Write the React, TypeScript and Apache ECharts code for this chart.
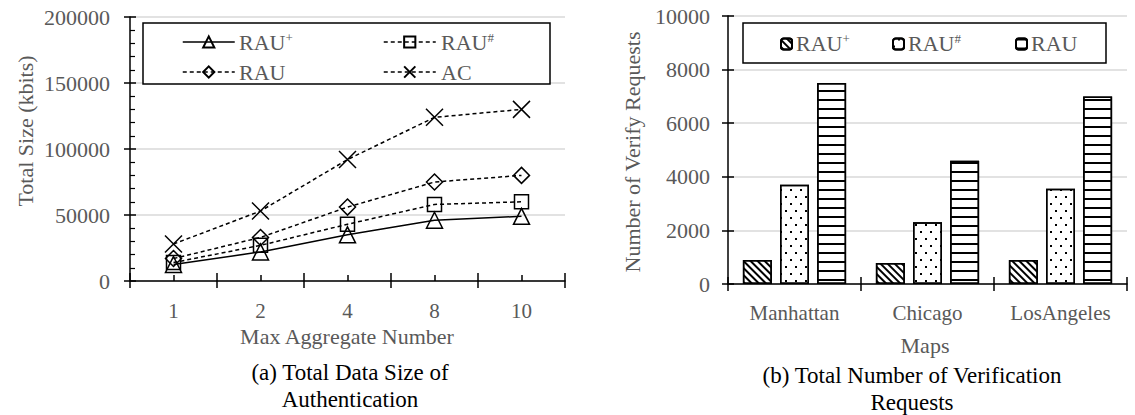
import React, { useEffect, useRef } from "react";
import * as echarts from "echarts";

// ---------- data ----------
const sizeCategories = ["1", "2", "4", "8", "10"];
const rauPlusSize = [12500, 22000, 35000, 46000, 49000];
const rauSharpSize = [14000, 27000, 43000, 58000, 60000];
const rauSize = [17000, 33000, 56000, 75000, 80000];
const acSize = [28000, 53000, 92000, 124000, 130000];

const mapCategories = ["Manhattan", "Chicago", "LosAngeles"];
const rauPlusReq = [900, 780, 900];
const rauSharpReq = [3700, 2300, 3550];
const rauReq = [7500, 4600, 7000];

const seriesNames = ["RAU+", "RAU#", "RAU", "AC"];

// ---------- styles ----------
const FONT = "Liberation Serif";
const GRAY = "#595959";
const AXIS = { color: "#000", width: 1.5 };
const GRID_LINE = { color: "#d9d9d9", width: 1.5 };
const plain = (v: number) => String(v);

const richLabel = (name: string) => {
  if (name === "RAU+") return "{m|RAU}{s|+}";
  if (name === "RAU#") return "{m|RAU}{s|#}";
  return `{m|${name}}`;
};

const legendLabel = (name: string, x: number, y: number) => ({
  type: "text",
  x,
  y,
  z: 13,
  style: {
    text: richLabel(name),
    fill: GRAY,
    font: "22px 'Liberation Serif', serif",
    fontFamily: FONT,
    fontSize: 22,
    align: "left",
    verticalAlign: "middle",
    rich: {
      m: { fill: GRAY, font: "22px 'Liberation Serif', serif", fontFamily: FONT, fontSize: 22 },
      s: {
        fill: GRAY,
        font: "13px 'Liberation Serif', serif",
        fontFamily: FONT,
        fontSize: 13,
        verticalAlign: "top",
      },
    },
  },
});

const txt = (text: string, x: number, y: number, size: number, color: string, rotate = 0) => ({
  type: "text",
  x,
  y,
  rotation: rotate,
  z: 10,
  style: {
    text,
    fill: color,
    fontFamily: FONT,
    fontSize: size,
    align: "center",
    verticalAlign: "middle",
  },
});

function buildLineOption() {
  const mk = (name: string, data: number[], symbol: string, size: number, dashed: boolean) => ({
    type: "line",
    name,
    data,
    xAxisIndex: 0,
    yAxisIndex: 0,
    symbol,
    symbolSize: size,
    showSymbol: true,
    lineStyle: { color: "#000", width: 1.5, type: dashed ? [4, 3] : "solid" },
    itemStyle: { color: "rgba(255,255,255,0)", borderColor: "#000", borderWidth: 1.5 },
    z: 3,
  });
  const legendBase = {
    orient: "horizontal",
    padding: 0,
    itemWidth: 52,
    itemHeight: 14,
    formatter: () => "",
    lineStyle: { width: 1.5 },
    selectedMode: false,
    z: 12,
  };
  const cross = "path://M0,0L20,20M20,0L0,20";
  return {
    animation: false,
    grid: { left: 130, top: 17, width: 435, height: 264 },
    legend: [
      { ...legendBase, data: [seriesNames[0]], left: 182, top: 35 },
      { ...legendBase, data: [seriesNames[1]], left: 383, top: 35 },
      { ...legendBase, data: [seriesNames[2]], left: 182, top: 65 },
      { ...legendBase, data: [seriesNames[3]], left: 383, top: 65 },
    ],
    xAxis: [
      {
        type: "category",
        data: sizeCategories,
        boundaryGap: true,
        axisLine: { show: true, lineStyle: AXIS },
        axisTick: { show: true, inside: false, length: 7, lineStyle: AXIS },
        axisLabel: { color: GRAY, fontFamily: FONT, fontSize: 21, margin: 19, interval: 0 },
        splitLine: { show: false },
      },
      {
        type: "category",
        data: sizeCategories,
        position: "bottom",
        axisLine: { show: false },
        axisTick: { show: true, inside: true, length: 8, lineStyle: AXIS },
        axisLabel: { show: false },
        splitLine: { show: false },
      },
      {
        type: "category",
        data: sizeCategories,
        position: "bottom",
        axisLine: { show: false },
        axisTick: { show: true, inside: true, length: 6, alignWithLabel: true, lineStyle: AXIS },
        axisLabel: { show: false },
        splitLine: { show: false },
      },
    ],
    yAxis: [
      {
        type: "value",
        min: 0,
        max: 200000,
        interval: 50000,
        axisLine: { show: true, lineStyle: AXIS },
        axisTick: { show: true, inside: true, length: 6, lineStyle: AXIS },
        minorTick: { show: true, splitNumber: 5, length: 5, lineStyle: { color: "#000", width: 1.2 } },
        splitLine: { show: true, lineStyle: GRID_LINE },
        axisLabel: { color: GRAY, fontFamily: FONT, fontSize: 22, margin: 20, formatter: plain },
      },
      {
        type: "value",
        min: 0,
        max: 200000,
        interval: 50000,
        position: "left",
        offset: 0,
        axisLine: { show: false },
        axisTick: { show: true, inside: false, length: 6, lineStyle: AXIS },
        axisLabel: { show: false },
        splitLine: { show: false },
      },
    ],
    series: [
      mk(seriesNames[0], rauPlusSize, "triangle", 16, false),
      mk(seriesNames[1], rauSharpSize, "rect", 14, true),
      mk(seriesNames[2], rauSize, "diamond", 16, true),
      mk(seriesNames[3], acSize, cross, 17, true),
    ],
    graphic: [
      {
        type: "rect",
        z: 11,
        shape: { x: 143, y: 23, width: 407, height: 61 },
        style: { fill: "#fff", stroke: "#000", lineWidth: 1.5 },
      },
      legendLabel(seriesNames[0], 239, 42),
      legendLabel(seriesNames[1], 441, 42),
      legendLabel(seriesNames[2], 239, 72),
      legendLabel(seriesNames[3], 441, 72),
      txt("Total Size (kbits)", 25, 131, 22, GRAY, Math.PI / 2),
      txt("Max Aggregate Number", 347, 336, 22, GRAY),
      txt("(a) Total Data Size of", 350, 372, 23, "#000"),
      txt("Authentication", 350, 399, 23, "#000"),
    ],
  };
}

function buildBarOption() {
  const decals = [
    {
      symbol: "rect",
      symbolSize: 1,
      color: "#000",
      backgroundColor: "#fff",
      dashArrayX: [1, 0],
      dashArrayY: [1.5, 2.5],
      rotation: Math.PI / 4,
    },
    {
      symbol: "rect",
      symbolSize: 1,
      color: "#000",
      backgroundColor: "#fff",
      dashArrayX: [
        [1.6, 7.4],
        [0, 4.5, 1.6, 2.9],
      ],
      dashArrayY: [1.6, 4.4],
      rotation: 0,
    },
    {
      symbol: "rect",
      symbolSize: 1,
      color: "#000",
      backgroundColor: "#fff",
      dashArrayX: [1, 0],
      dashArrayY: [1.8, 6.7],
      rotation: 0,
    },
  ];
  const mk = (name: string, data: number[], decal: any) => ({
    type: "bar",
    name,
    data,
    xAxisIndex: 0,
    yAxisIndex: 0,
    barWidth: 29,
    barGap: "28%",
    itemStyle: { color: "#fff", borderColor: "#000", borderWidth: 1.5, decal },
    z: 3,
  });
  const legendBase = {
    orient: "horizontal",
    padding: 0,
    itemWidth: 11,
    itemHeight: 11,
    formatter: () => "",
    selectedMode: false,
    z: 12,
  };
  return {
    animation: false,
    grid: { left: 138, top: 16, width: 399, height: 268 },
    legend: [
      { ...legendBase, data: [seriesNames[0]], left: 190, top: 37.5 },
      { ...legendBase, data: [seriesNames[1]], left: 302, top: 37.5 },
      { ...legendBase, data: [seriesNames[2]], left: 425, top: 37.5 },
    ],
    xAxis: [
      {
        type: "category",
        data: mapCategories,
        boundaryGap: true,
        axisLine: { show: true, lineStyle: AXIS },
        axisTick: { show: true, inside: false, length: 7, lineStyle: AXIS },
        axisLabel: { color: GRAY, fontFamily: FONT, fontSize: 21, margin: 18, interval: 0 },
        splitLine: { show: false },
      },
      {
        type: "category",
        data: mapCategories,
        position: "bottom",
        axisLine: { show: false },
        axisTick: { show: true, inside: true, length: 7, lineStyle: AXIS },
        axisLabel: { show: false },
        splitLine: { show: false },
      },
    ],
    yAxis: [
      {
        type: "value",
        min: 0,
        max: 10000,
        interval: 2000,
        axisLine: { show: true, lineStyle: AXIS },
        axisTick: { show: true, inside: true, length: 6, lineStyle: AXIS },
        splitLine: { show: true, lineStyle: GRID_LINE },
        axisLabel: { color: GRAY, fontFamily: FONT, fontSize: 22, margin: 18, formatter: plain },
      },
      {
        type: "value",
        min: 0,
        max: 10000,
        interval: 2000,
        position: "left",
        offset: 0,
        axisLine: { show: false },
        axisTick: { show: true, inside: false, length: 6, lineStyle: AXIS },
        axisLabel: { show: false },
        splitLine: { show: false },
      },
    ],
    series: [
      mk(seriesNames[0], rauPlusReq, decals[0]),
      mk(seriesNames[1], rauSharpReq, decals[1]),
      mk(seriesNames[2], rauReq, decals[2]),
    ],
    graphic: [
      {
        type: "rect",
        z: 11,
        shape: { x: 153, y: 23, width: 363, height: 40 },
        style: { fill: "#fff", stroke: "#000", lineWidth: 1.5 },
      },
      legendLabel(seriesNames[0], 206, 43),
      legendLabel(seriesNames[1], 318, 43),
      legendLabel(seriesNames[2], 441, 43),
      txt("Number of Verify Requests", 42, 152, 22, GRAY, Math.PI / 2),
      txt("Maps", 335, 345, 22, GRAY),
      txt("(b) Total Number of Verification", 322, 375, 23, "#000"),
      txt("Requests", 322, 402, 23, "#000"),
    ],
  };
}

export default function App() {
  const leftRef = useRef<HTMLDivElement>(null);
  const rightRef = useRef<HTMLDivElement>(null);

  useEffect(() => {
    const left = echarts.init(leftRef.current!, undefined, { renderer: "svg" });
    const right = echarts.init(rightRef.current!, undefined, { renderer: "svg" });
    left.setOption(buildLineOption() as any);
    right.setOption(buildBarOption() as any);
    return () => {
      left.dispose();
      right.dispose();
    };
  }, []);

  return (
    <div style={{ position: "fixed", left: 0, top: 0, width: 1135, height: 415, background: "#fff" }}>
      <div ref={leftRef} style={{ position: "absolute", left: 0, top: 0, width: 590, height: 415 }} />
      <div ref={rightRef} style={{ position: "absolute", left: 590, top: 0, width: 545, height: 415 }} />
    </div>
  );
}
